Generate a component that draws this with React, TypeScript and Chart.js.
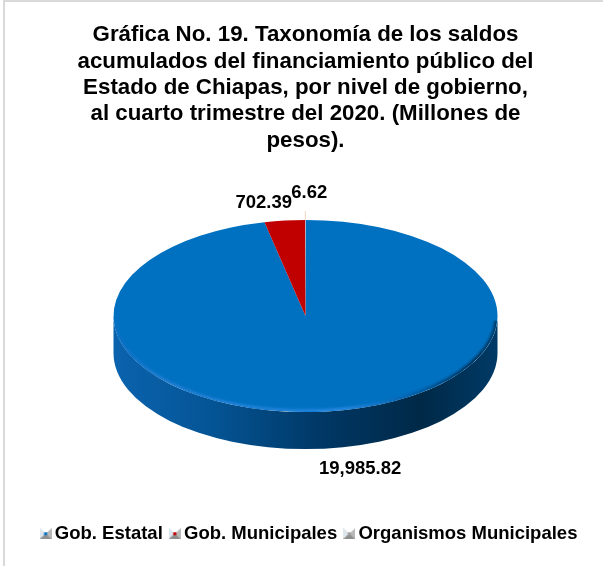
import React, { useEffect, useRef } from "react";
import { Chart, registerables } from "chart.js";

Chart.register(...registerables);

const titleLines = [
  "Gráfica No. 19. Taxonomía de los saldos",
  "acumulados del financiamiento público del",
  "Estado de Chiapas, por nivel de gobierno,",
  "al cuarto trimestre del 2020. (Millones de",
  "pesos).",
];
const categories = ["Gob. Estatal", "Gob. Municipales", "Organismos Municipales"];
const values = [19985.82, 702.39, 6.62];
const valueLabels = ["19,985.82", "702.39", "6.62"];
const colors = ["#0070C0", "#C00000", "#F2D5C0"];
const iconColors = ["#0070C0", "#C00000", "#A0A0A0"];
const labelOffsets = [
  [34, 20],
  [-21, -18],
  [4, -27],
];

const FONT = "'Liberation Sans', Arial, sans-serif";
const SQUASH = 0.5;
const CENTER_Y = 316;
const DEPTH = 37;
const RADIUS = 192;

function legendIcon(color: string) {
  const c = document.createElement("canvas");
  c.width = 12;
  c.height = 11;
  const g = c.getContext("2d")!;
  g.fillStyle = "#B8B8B8";
  g.fillRect(0, 0, 12, 11);
  g.fillStyle = "#DCE6EE";
  g.beginPath();
  g.moveTo(0, 0);
  g.lineTo(6, 5.5);
  g.lineTo(0, 11);
  g.fill();
  g.fillStyle = "#FFFFFF";
  g.beginPath();
  g.moveTo(0, 0);
  g.lineTo(12, 0);
  g.lineTo(6, 5.5);
  g.fill();
  g.fillStyle = "#8E8E8E";
  g.beginPath();
  g.moveTo(0, 11);
  g.lineTo(12, 11);
  g.lineTo(6, 5.5);
  g.fill();
  g.fillStyle = color;
  g.fillRect(4.5, 4, 3, 3);
  return c;
}

const pie3d = {
  id: "pie3d",
  afterLayout(chart: any) {
    chart.legend.left += 6;
    chart.legend.right += 6;
  },
  beforeDraw(chart: any) {
    const { ctx, width, height } = chart;
    ctx.save();
    ctx.fillStyle = "#FFFFFF";
    ctx.fillRect(0, 0, width, height);
    ctx.fillStyle = "#D9D9D9";
    ctx.fillRect(3, 0, width - 3, 2);
    ctx.fillRect(3, 0, 2, height);
    ctx.restore();
  },
  beforeDatasetsDraw(chart: any) {
    const { ctx } = chart;
    const arcs = chart.getDatasetMeta(0).data;
    const cx = arcs[0].x;
    const oy = arcs[0].y;
    const r = arcs[0].outerRadius;
    ctx.save();
    const grad = ctx.createLinearGradient(cx - r, 0, cx + r, 0);
    grad.addColorStop(0, "#0B63AE");
    grad.addColorStop(0.25, "#045596");
    grad.addColorStop(0.55, "#003764");
    grad.addColorStop(0.8, "#002947");
    grad.addColorStop(1, "#003A66");
    ctx.fillStyle = grad;
    ctx.beginPath();
    ctx.ellipse(cx, CENTER_Y, r, r * SQUASH, 0, 0, Math.PI);
    ctx.lineTo(cx - r, CENTER_Y + DEPTH);
    ctx.ellipse(cx, CENTER_Y + DEPTH, r, r * SQUASH, 0, Math.PI, 0, true);
    ctx.closePath();
    ctx.fill();
    ctx.restore();
    ctx.save();
    ctx.translate(cx, CENTER_Y);
    ctx.scale(1, SQUASH);
    ctx.translate(-cx, -oy);
  },
  afterDatasetsDraw(chart: any) {
    const { ctx } = chart;
    ctx.restore();
    const arcs = chart.getDatasetMeta(0).data;
    const cx = arcs[0].x;
    const r = arcs[0].outerRadius;
    ctx.save();
    // soft bevel along the lower rim of the top face
    const rim = ctx.createLinearGradient(cx - r, 0, cx + r, 0);
    rim.addColorStop(0, "rgb(10,110,195)");
    rim.addColorStop(0.12, "rgb(30,125,210)");
    rim.addColorStop(0.6, "rgb(35,135,225)");
    rim.addColorStop(0.8, "rgb(0,90,160)");
    rim.addColorStop(0.93, "rgb(0,50,90)");
    rim.addColorStop(1, "rgb(0,60,105)");
    ctx.strokeStyle = rim;
    [
      [4, 0.12],
      [3, 0.3],
      [2, 0.6],
      [1, 0.95],
    ].forEach(([inset, alpha]) => {
      ctx.globalAlpha = alpha;
      ctx.lineWidth = 1.4;
      ctx.beginPath();
      ctx.ellipse(cx, CENTER_Y, r - inset, r * SQUASH - inset, 0, 0.05, Math.PI - 0.05);
      ctx.stroke();
    });
    ctx.globalAlpha = 1;
    // leader line of the smallest slice
    const last = arcs[arcs.length - 1];
    const mid = (last.startAngle + last.endAngle) / 2;
    const ex = cx + Math.cos(mid) * r;
    const ey = CENTER_Y + Math.sin(mid) * r * SQUASH;
    ctx.strokeStyle = colors[2];
    ctx.lineWidth = 1;
    ctx.beginPath();
    ctx.moveTo(ex, ey);
    ctx.lineTo(ex, ey - 9);
    ctx.stroke();
    // value labels
    ctx.fillStyle = "#000000";
    ctx.font = `bold 18.5px ${FONT}`;
    ctx.textAlign = "center";
    ctx.textBaseline = "middle";
    arcs.forEach((arc: any, i: number) => {
      const m = (arc.startAngle + arc.endAngle) / 2;
      const x = cx + Math.cos(m) * r + labelOffsets[i][0];
      const y = CENTER_Y + Math.sin(m) * r * SQUASH + labelOffsets[i][1] + (i === 0 ? DEPTH : 0);
      ctx.fillText(valueLabels[i], x, y);
    });
    ctx.restore();
  },
};

export default function App() {
  const ref = useRef<HTMLCanvasElement>(null);
  useEffect(() => {
    document.body.style.margin = "0";
    const chart = new Chart(ref.current!, {
      type: "pie",
      data: {
        labels: categories,
        datasets: [
          {
            data: values,
            backgroundColor: colors,
            borderWidth: 0,
          },
        ],
      },
      plugins: [pie3d],
      options: {
        responsive: false,
        animation: false,
        radius: RADIUS,
        layout: { padding: { top: 22, bottom: 13, left: 8, right: 0 } },
        plugins: {
          tooltip: { enabled: false },
          title: {
            display: true,
            text: titleLines,
            color: "#000000",
            font: { family: FONT, size: 22.3, weight: "bold", lineHeight: 1.18 },
            padding: { top: 0, bottom: 10 },
          },
          legend: {
            position: "bottom",
            labels: {
              color: "#000000",
              font: { family: FONT, size: 18.5, weight: "bold" },
              usePointStyle: true,
              pointStyleWidth: 0.01,
              padding: 12,
              generateLabels: () =>
                categories.map((text, i) => ({
                  text,
                  fillStyle: colors[i],
                  strokeStyle: colors[i],
                  lineWidth: 0,
                  hidden: false,
                  index: i,
                  pointStyle: legendIcon(iconColors[i]),
                })),
            },
          },
        },
      },
    } as any);
    return () => chart.destroy();
  }, []);
  return <canvas ref={ref} width={603} height={566} style={{ display: "block" }} />;
}
